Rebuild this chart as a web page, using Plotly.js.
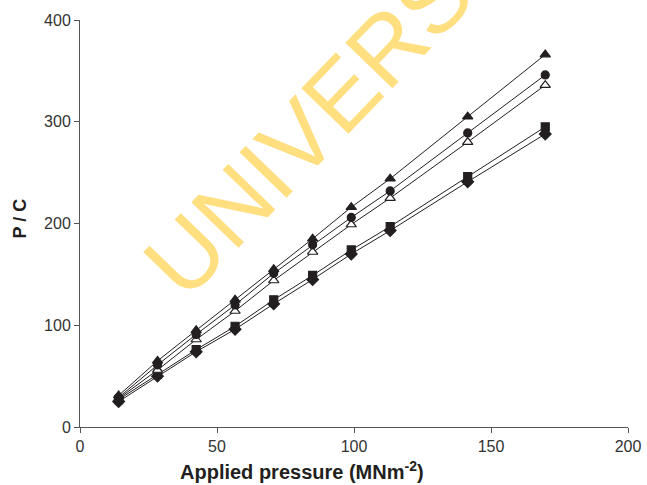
<!DOCTYPE html>
<html>
<head>
<meta charset="utf-8">
<script src="https://cdn.plot.ly/plotly-3.0.1.min.js"></script>
<style>html,body{margin:0;padding:0;background:#fff;}#chart{width:647px;height:485px;}</style>
</head>
<body>
<div id="chart"></div>
<script>
// Applied pressure (MNm^-2)
const pressure = [14.1, 28.3, 42.4, 56.6, 70.7, 84.9, 99.0, 113.2, 141.5, 169.8];
// P / C for each series
const filledTriangle = [31, 65, 95, 125, 155, 185, 216, 244, 305, 366];
const filledCircle   = [29, 61, 91, 120, 151, 179, 206, 232, 289, 346];
const openTriangle   = [28, 56, 86, 114, 144, 172, 199, 225, 280, 336];
const filledSquare   = [27, 52, 76, 99, 125, 149, 174, 197, 246, 295];
const filledDiamond  = [25, 50, 74, 96, 121, 145, 170, 193, 241, 288];
const xTicks = [0, 50, 100, 150, 200];
const yTicks = [0, 100, 200, 300, 400];

const ink = '#231F20';
function series(y, symbol, fill, size) {
  return {
    x: pressure, y: y, type: 'scatter', mode: 'lines+markers',
    line: {color: ink, width: 1},
    marker: {symbol: symbol, size: size, color: fill, line: {color: ink, width: 1.2}},
    showlegend: false, cliponaxis: false
  };
}
const data = [
  series(filledDiamond, 'diamond', ink, 9),
  series(filledSquare, 'square', ink, 8),
  series(openTriangle, 'triangle-up', '#ffffff', 9),
  series(filledCircle, 'circle', ink, 8),
  series(filledTriangle, 'triangle-up', ink, 9)
];
const font = 'Liberation Sans, Arial, sans-serif';
const layout = {
  width: 647, height: 485,
  margin: {l: 80, r: 19, t: 20, b: 58},
  paper_bgcolor: '#ffffff', plot_bgcolor: '#ffffff',
  font: {family: font, color: '#231F20', size: 16},
  xaxis: {
    range: [0, 200], tickvals: xTicks, ticktext: xTicks.map(String),
    showgrid: false, zeroline: false, showline: true, linecolor: '#555', linewidth: 1,
    ticks: 'outside', ticklen: 5, tickcolor: '#555',
    tickfont: {size: 16, color: '#333'}
  },
  yaxis: {
    range: [0, 400], tickvals: yTicks, ticktext: yTicks.map(String),
    showgrid: false, zeroline: false, showline: true, linecolor: '#555', linewidth: 1,
    ticks: 'outside', ticklen: 5, tickcolor: '#555',
    tickfont: {size: 16, color: '#333'}
  },
  annotations: [
    {
      text: 'UNIVERS', xref: 'paper', yref: 'paper', x: 0.416, y: 0.735,
      xanchor: 'center', yanchor: 'middle', textangle: -46, showarrow: false,
      font: {family: font, size: 95, color: '#FFDF80'}
    },
    {
      text: '<b>Applied pressure (MNm<sup>-2</sup>)</b>', xref: 'paper', yref: 'paper',
      x: 0.405, y: -0.106, xanchor: 'center', yanchor: 'middle', showarrow: false,
      font: {family: font, size: 20, color: '#231F20'}
    },
    {
      text: '<b>P / C</b>', xref: 'paper', yref: 'paper',
      x: -0.109, y: 0.513, xanchor: 'center', yanchor: 'middle', textangle: -90, showarrow: false,
      font: {family: font, size: 18, color: '#231F20'}
    }
  ]
};
Plotly.newPlot('chart', data, layout, {staticPlot: true, displayModeBar: false});
</script>
</body>
</html>
